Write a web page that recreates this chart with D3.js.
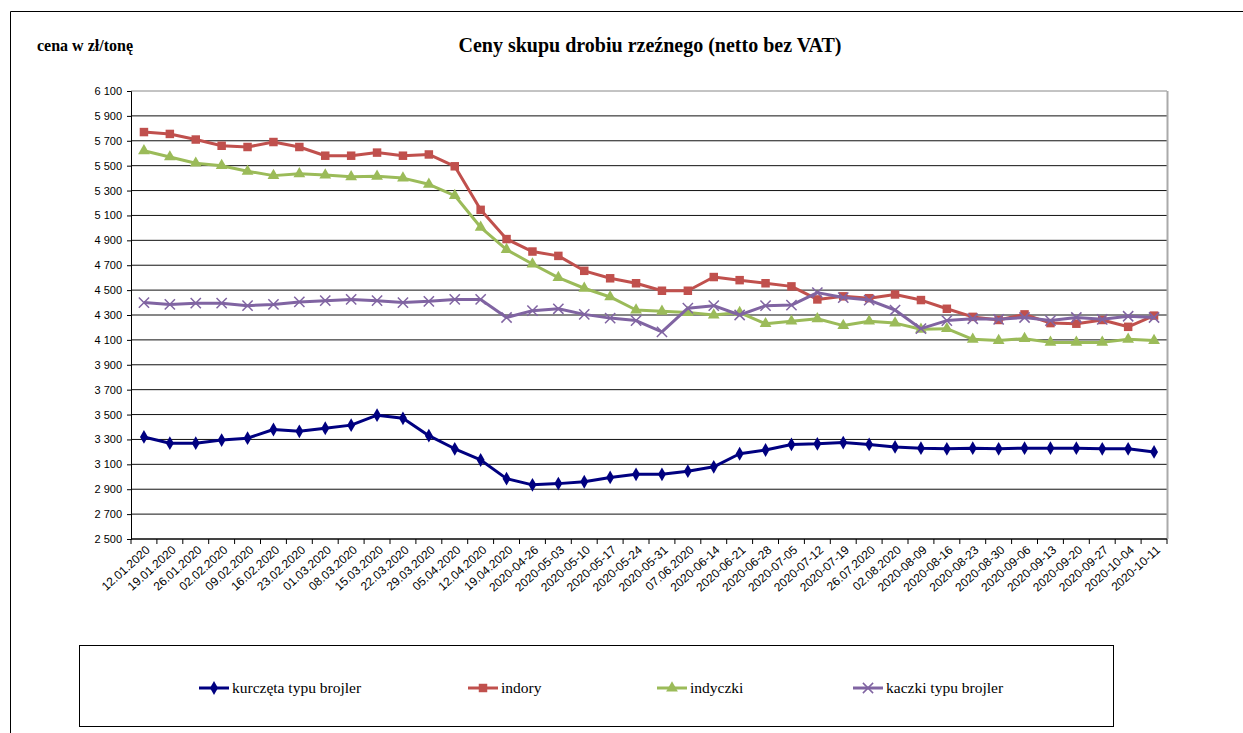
<!DOCTYPE html>
<html>

<head>
    <meta charset="utf-8">
    <script src="https://d3js.org/d3.v7.min.js"></script>
    <style>
        body { margin: 0; background: #fff; }
        .tick text { font-family: "Liberation Sans", Arial, sans-serif; font-size: 11px; fill: #000; }
        .title { font-family: "Liberation Serif", "Times New Roman", serif; font-weight: bold; }
        .legend text { font-family: "Liberation Serif", "Times New Roman", serif; font-size: 15.5px; }
    </style>
</head>

<body>
    <script type="text/JavaScript">

// categories (weeks)
var weeks = ["12.01.2020", "19.01.2020", "26.01.2020", "02.02.2020", "09.02.2020", "16.02.2020",
  "23.02.2020", "01.03.2020", "08.03.2020", "15.03.2020", "22.03.2020", "29.03.2020", "05.04.2020",
  "12.04.2020", "19.04.2020", "2020-04-26", "2020-05-03", "2020-05-10", "2020-05-17", "2020-05-24",
  "2020-05-31", "07.06.2020", "2020-06-14", "2020-06-21", "2020-06-28", "2020-07-05", "2020-07-12",
  "2020-07-19", "26.07.2020", "02.08.2020", "2020-08-09", "2020-08-16", "2020-08-23", "2020-08-30",
  "2020-09-06", "2020-09-13", "2020-09-20", "2020-09-27", "2020-10-04", "2020-10-11"];

var kurczeta = [3320, 3270, 3270, 3295, 3310, 3380, 3365, 3390, 3415, 3495, 3470, 3330, 3225, 3135,
  2985, 2935, 2945, 2960, 2995, 3020, 3020, 3045, 3080, 3185, 3215, 3260, 3265, 3275, 3260, 3240,
  3230, 3225, 3230, 3225, 3230, 3230, 3230, 3225, 3225, 3200];

var indory = [5770, 5755, 5710, 5660, 5650, 5690, 5650, 5580, 5580, 5605, 5580, 5590, 5495, 5145,
  4910, 4810, 4775, 4655, 4595, 4555, 4495, 4495, 4605, 4580, 4555, 4530, 4425, 4450, 4435, 4465,
  4420, 4350, 4285, 4260, 4305, 4235, 4230, 4260, 4205, 4295];

var indyczki = [5620, 5570, 5520, 5500, 5455, 5420, 5435, 5425, 5410, 5415, 5400, 5350, 5260, 5005,
  4825, 4710, 4600, 4515, 4445, 4340, 4330, 4320, 4300, 4320, 4230, 4250, 4270, 4215, 4250, 4235,
  4185, 4190, 4105, 4095, 4110, 4080, 4080, 4080, 4105, 4095];

var kaczki = [4400, 4385, 4395, 4395, 4375, 4385, 4405, 4415, 4425, 4415, 4400, 4410, 4425, 4425,
  4280, 4335, 4350, 4305, 4275, 4255, 4165, 4355, 4375, 4300, 4375, 4380, 4480, 4440, 4420, 4340,
  4190, 4255, 4270, 4265, 4280, 4255, 4280, 4265, 4290, 4280];

var yTicks = d3.range(2500, 6101, 200);

var series = [
  { name: "kurczęta typu brojler", values: kurczeta, color: "#000080", symbol: d3.symbolDiamond, size: 55 },
  { name: "indory", values: indory, color: "#C0504D", symbol: d3.symbolSquare, size: 72 },
  { name: "indyczki", values: indyczki, color: "#9BBB59", symbol: d3.symbolTriangle, size: 60 },
  { name: "kaczki typu brojler", values: kaczki, color: "#8064A2", symbol: d3.symbolTimes || d3.symbolCross, size: 70, stroke: true }
];

var w = 1243; var h = 733;
var svg = d3.select("body").append("svg")
.attr("width", w)
.attr("height", h)

// outer frame (top + left)
svg.append("path")
.attr("d", "M10.5,733 V11.5 H1243")
.attr("fill", "none")
.attr("stroke", "#000")

svg.append("text").attr("class", "title")
.attr("x", 37).attr("y", 51)
.attr("font-size", 16)
.text("cena w zł/tonę")

svg.append("text").attr("class", "title")
.attr("x", 650).attr("y", 52)
.attr("text-anchor", "middle")
.attr("font-size", 20)
.text("Ceny skupu drobiu rzeźnego (netto bez VAT)")

// plot area
var pLeft = 131, pRight = 1167, pTop = 91, pBottom = 539;

var x = d3.scaleBand()
.domain(weeks)
.range([pLeft, pRight])

var y = d3.scaleLinear()
.domain([2500, 6100])
.range([pBottom, pTop])

// gridlines
svg.append("g")
.selectAll("line")
.data(yTicks)
.enter()
.append("line")
.attr("x1", pLeft).attr("x2", pRight)
.attr("y1", function(d) { return y(d); })
.attr("y2", function(d) { return y(d); })
.attr("stroke", function(d) { return d == 6100 ? "#888" : "#111"; })

// right edge of plot
svg.append("line")
.attr("x1", pRight + 0.5).attr("x2", pRight + 0.5)
.attr("y1", pTop).attr("y2", pBottom)
.attr("stroke", "#aaa")
.attr("stroke-width", 2)

var fmt = function(d) { return d3.format(",")(d).replace(",", " "); };

svg.append("g")
.attr("transform", "translate(" + pLeft + ",0)")
.call(d3.axisLeft(y).tickValues(yTicks).tickFormat(fmt).tickSize(4).tickPadding(5))
.call(function(g) { g.select(".domain").attr("stroke", "#000"); })

// category axis: ticks on band edges
var xAxis = svg.append("g")
.attr("transform", "translate(0," + pBottom + ")")

xAxis.append("line")
.attr("x1", pLeft).attr("x2", pRight)
.attr("stroke", "#000")

xAxis.selectAll("line.tk")
.data(weeks.concat(["end"]))
.enter()
.append("line")
.attr("class", "tk")
.attr("x1", function(d, i) { return pLeft + i * x.bandwidth(); })
.attr("x2", function(d, i) { return pLeft + i * x.bandwidth(); })
.attr("y1", 0).attr("y2", 5)
.attr("stroke", "#000")

xAxis.selectAll("text")
.data(weeks)
.enter()
.append("text")
.attr("transform", function(d) {
  return "translate(" + (x(d) + x.bandwidth() / 2 + 4) + ",9) rotate(-42)";
})
.attr("text-anchor", "end")
.attr("dy", "0.35em")
.style("font-family", "'Liberation Sans', Arial, sans-serif")
.style("font-size", "12px")
.text(function(d) { return d; })

var line = d3.line()
.x(function(d, i) { return x(weeks[i]) + x.bandwidth() / 2; })
.y(function(d) { return y(d); })

function marker(g, s) {
  g.attr("d", d3.symbol(s.symbol, s.size))
  .attr("fill", s.stroke ? "none" : s.color)
  .attr("stroke", s.color)
  .attr("stroke-width", s.stroke ? 1.5 : 0)
}

series.forEach(function(s) {
  var g = svg.append("g");
  g.append("path")
  .attr("d", line(s.values))
  .attr("fill", "none")
  .attr("stroke", s.color)
  .attr("stroke-width", 3)
  .attr("stroke-linejoin", "round")

  g.selectAll("path.mk")
  .data(s.values)
  .enter()
  .append("path")
  .attr("class", "mk")
  .attr("transform", function(d, i) {
    return "translate(" + (x(weeks[i]) + x.bandwidth() / 2) + "," + y(d) + ")";
  })
  .call(marker, s)
});

// legend
var legend = svg.append("g").attr("class", "legend")

legend.append("rect")
.attr("x", 79.5).attr("y", 645.5)
.attr("width", 1034).attr("height", 81)
.attr("fill", "none")
.attr("stroke", "#000")

var legendX = [199, 468, 657, 853];

series.forEach(function(s, i) {
  var item = legend.append("g")
  .attr("transform", "translate(" + legendX[i] + ",688)");
  item.append("line")
  .attr("x1", 0).attr("x2", 30)
  .attr("stroke", s.color)
  .attr("stroke-width", 3)
  item.append("path")
  .attr("transform", "translate(15,0)")
  .call(marker, s)
  item.append("text")
  .attr("x", 33).attr("y", 5)
  .text(s.name)
});

</script>
</body>

</html>
